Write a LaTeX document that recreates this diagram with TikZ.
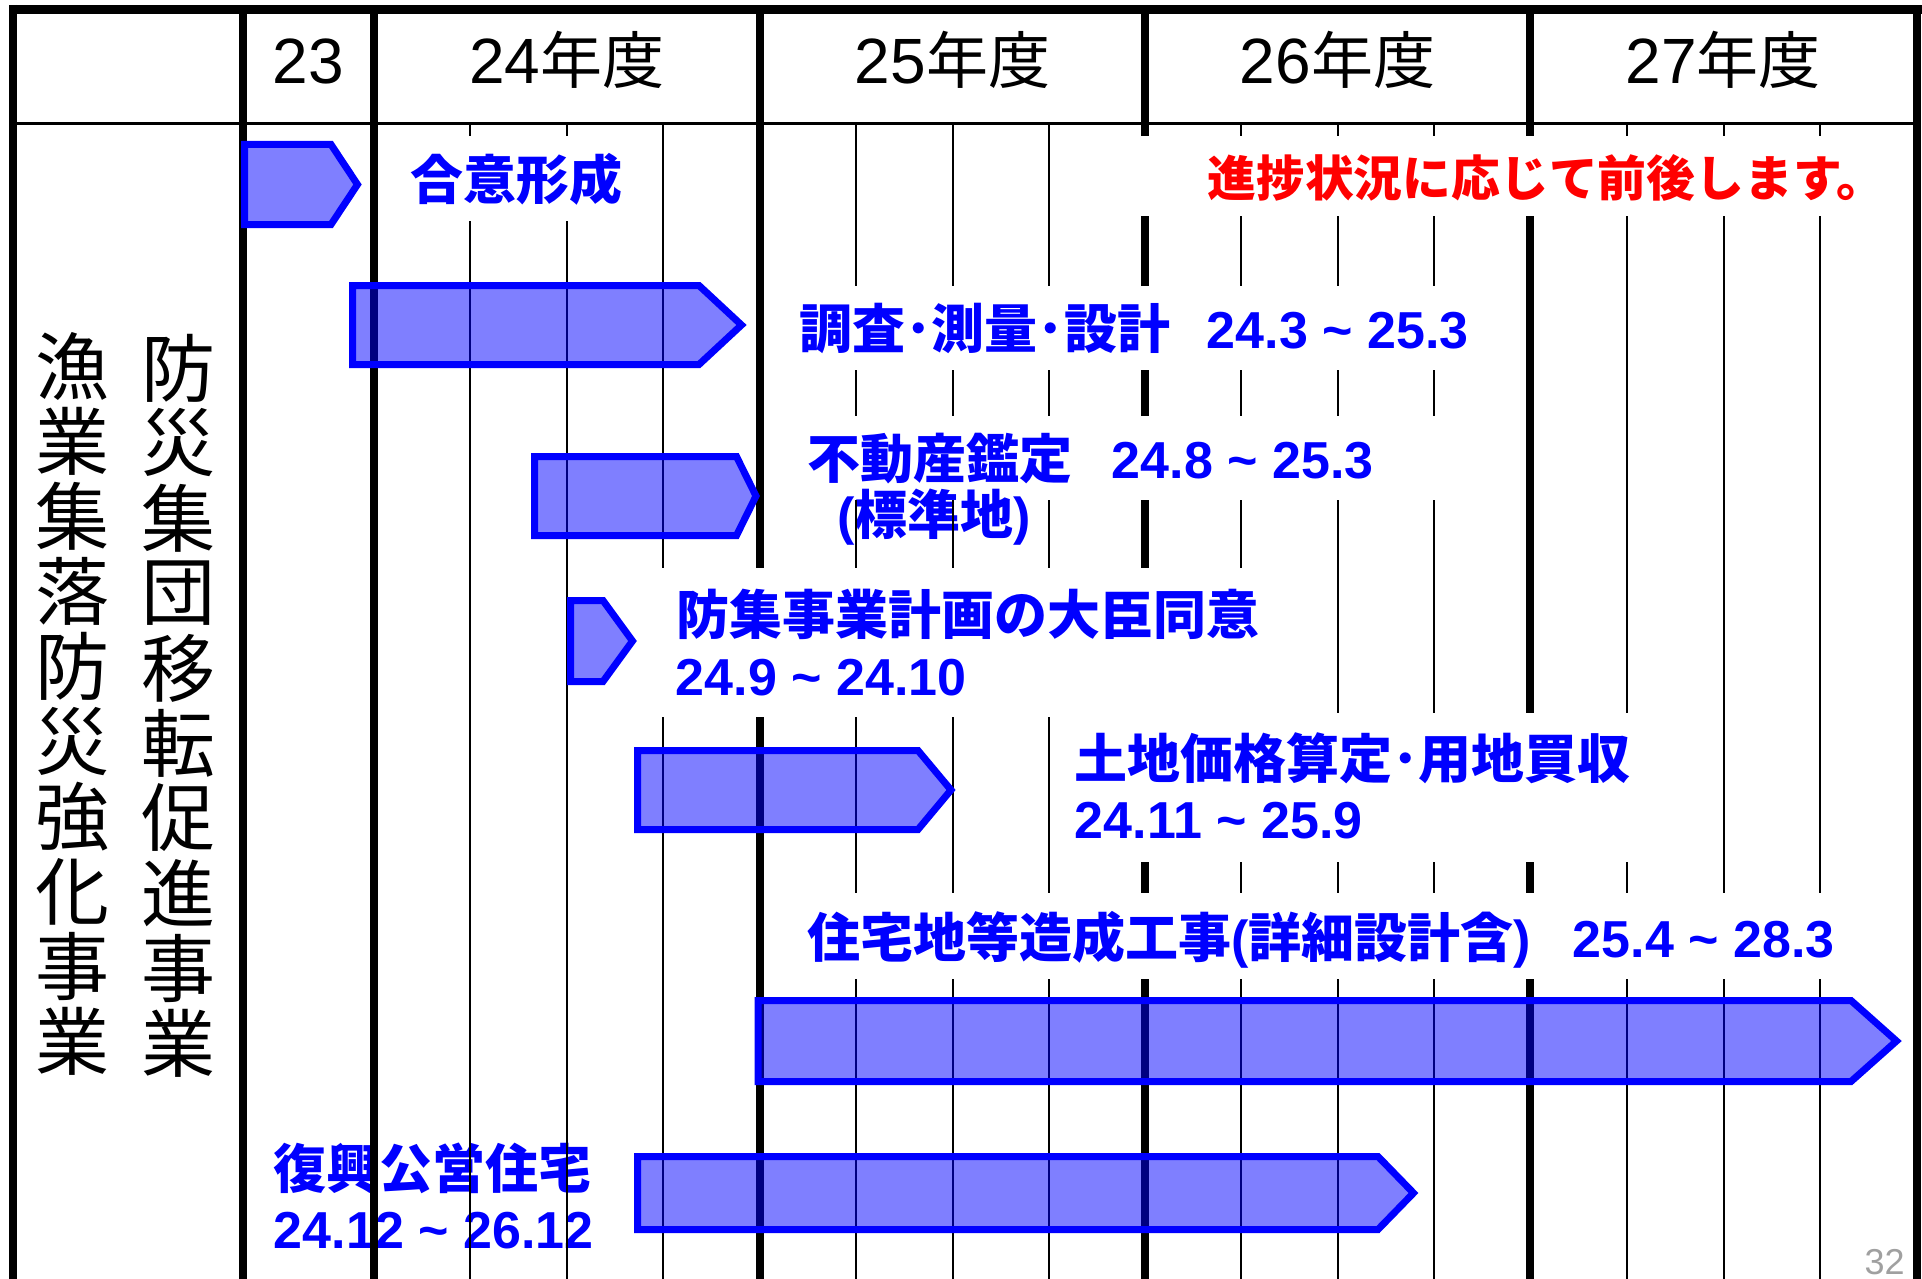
\documentclass[tikz,border=0pt]{standalone}
\usepackage{fontspec}
\setmainfont{Liberation Sans}
\newfontfamily\cjkfont{Noto Sans CJK JP}
\newcommand{\bj}[1]{{\cjkfont\bfseries\fontsize{26.5}{30}\selectfont #1}}
\newcommand{\hj}[1]{{\cjkfont\fontsize{31}{36}\selectfont #1}}
\newcommand{\tl}{\textasciitilde}
\definecolor{pgnum}{RGB}{160,160,160}
\tikzset{
  frameline/.style={line width=3.8pt, black},
  qline/.style={line width=1.35pt, black},
  hline/.style={line width=1.85pt, black},
  bar/.style={draw=blue, line width=3.5pt, fill=blue, fill opacity=0.5, line join=miter},
  lbl/.style={inner sep=0pt, anchor=base west, text=blue, font=\bfseries\fontsize{26}{30}\selectfont},
  hdr/.style={inner sep=0pt, anchor=base, font=\fontsize{32}{36}\selectfont},
  vt/.style={inner sep=0pt, anchor=center, font=\cjkfont\fontsize{37}{40}\selectfont},
}
\begin{document}
\begin{tikzpicture}[x=0.5pt,y=-0.5pt]
\useasboundingbox (0,0) rectangle (1922,1279);
\fill[white] (0,0) rectangle (1922,1279);

% ---------- header texts ----------
\node[hdr] (h23) at (308.5,83.5) {23};
\node[hdr] (h24) at (567,83.5) {24\hj{年度}};
\node[hdr] (h25) at (952.5,83.5) {25\hj{年度}};
\node[hdr] (h26) at (1337.5,83.5) {26\hj{年度}};
\node[hdr] (h27) at (1723,83.5) {27\hj{年度}};

% ---------- vertical titles ----------
\foreach \kchar [count=\i from 0] in {漁,業,集,落,防,災,強,化,事,業}
  \node[vt] (lv\i) at (72,366.5+75*\i) {\kchar};
\foreach \kchar [count=\i from 0] in {防,災,集,団,移,転,促,進,事,業}
  \node[vt] (rv\i) at (178.5,368+75*\i) {\kchar};

% ---------- labels ----------
\node[lbl] (t1) at (410,199) {\bj{合意形成}};
\node[lbl] (t2) at (799,348.5) {\bj{調査･測量･設計}};
\node[lbl] (t2d) at (1206.5,348.5) {24.3 \tl{} 25.3};
\node[lbl] (t3) at (807,478) {\bj{不動産鑑定}};
\node[lbl] (t3d) at (1111.5,478) {24.8 \tl{} 25.3};
\node[lbl] (t3b) at (837,534) {(\bj{標準地})};
\node[lbl] (t4) at (676,634) {\bj{防集事業計画の大臣同意}};
\node[lbl] (t4d) at (675.5,695) {24.9 \tl{} 24.10};
\node[lbl] (t5) at (1074,778) {\bj{土地価格算定･用地買収}};
\node[lbl] (t5d) at (1074.5,838) {24.11 \tl{} 25.9};
\node[lbl] (t6) at (807,957) {\bj{住宅地等造成工事}(\bj{詳細設計含})};
\node[lbl] (t6d) at (1572.5,957) {25.4 \tl{} 28.3};
\node[lbl] (t7) at (273,1188) {\bj{復興公営住宅}};
\node[lbl] (t7d) at (273.5,1248) {24.12 \tl{} 26.12};
\node[inner sep=0pt, anchor=base west, text=red, font=\cjkfont\bfseries\fontsize{24.4}{28}\selectfont]
  (note) at (1207,197) {進捗状況に応じて前後します。};
\node[inner sep=0pt, anchor=base east, text=pgnum, font=\fontsize{18}{20}\selectfont]
  (pg) at (1905,1274) {32};

% ---------- frame ----------
\draw[line width=4.5pt] (9.2,9.5) -- (1922,9.5);
\draw[hline] (13,123.5) -- (1917,123.5);
\draw[frameline] (13,5) -- (13,1279);
\draw[frameline] (243,9) -- (243,1279);
\draw[frameline] (374,9) -- (374,1279);
\draw[frameline] (1917,5) -- (1917,1279);

% ---------- grid lines (broken behind label areas) ----------
\foreach \x in {470,567}
  \foreach \a/\b in {123/136,221/1279} \draw[qline] (\x,\a) -- (\x,\b);
\foreach \a/\b in {123/568,717/1279} \draw[qline] (663,\a) -- (663,\b);
\foreach \a/\b in {9/568,717/1279} \draw[frameline] (760,\a) -- (760,\b);
\foreach \x in {856,953,1049}
  \foreach \a/\b in {123/286,370/416,500/568,717/893,979/1279} \draw[qline] (\x,\a) -- (\x,\b);
\foreach \a/\b in {9/136,216/286,370/416,500/568,862/893,979/1279} \draw[frameline] (1145,\a) -- (1145,\b);
\foreach \a/\b in {123/136,216/286,370/416,500/568,862/893,979/1279} \draw[qline] (1241,\a) -- (1241,\b);
\foreach \x in {1338,1434}
  \foreach \a/\b in {123/136,216/286,370/416,500/713,862/893,979/1279} \draw[qline] (\x,\a) -- (\x,\b);
\foreach \a/\b in {9/136,216/713,862/893,979/1279} \draw[frameline] (1530,\a) -- (1530,\b);
\foreach \a/\b in {123/136,216/713,862/893,979/1279} \draw[qline] (1627,\a) -- (1627,\b);
\foreach \x in {1724,1820}
  \foreach \a/\b in {123/136,216/893,979/1279} \draw[qline] (\x,\a) -- (\x,\b);

% ---------- bars ----------
\draw[bar] (244.5,144.5) -- (331,144.5) -- (357.5,184.5) -- (331,224.5) -- (244.5,224.5) -- cycle;
\draw[bar] (352.5,285.5) -- (699,285.5) -- (741.5,325) -- (699,364.5) -- (352.5,364.5) -- cycle;
\draw[bar] (534.5,456.5) -- (736.5,456.5) -- (756,496) -- (736.5,535.5) -- (534.5,535.5) -- cycle;
\draw[bar] (570.5,600.5) -- (603,600.5) -- (632.5,641) -- (603,681.5) -- (570.5,681.5) -- cycle;
\draw[bar] (637.5,750.5) -- (918,750.5) -- (951,790) -- (918,829.5) -- (637.5,829.5) -- cycle;
\draw[bar] (758,1000.5) -- (1851,1000.5) -- (1896.5,1041) -- (1851,1081.5) -- (758,1081.5) -- cycle;
\draw[bar] (637.5,1156.5) -- (1378,1156.5) -- (1413.5,1193) -- (1378,1229.5) -- (637.5,1229.5) -- cycle;
\end{tikzpicture}
\end{document}
